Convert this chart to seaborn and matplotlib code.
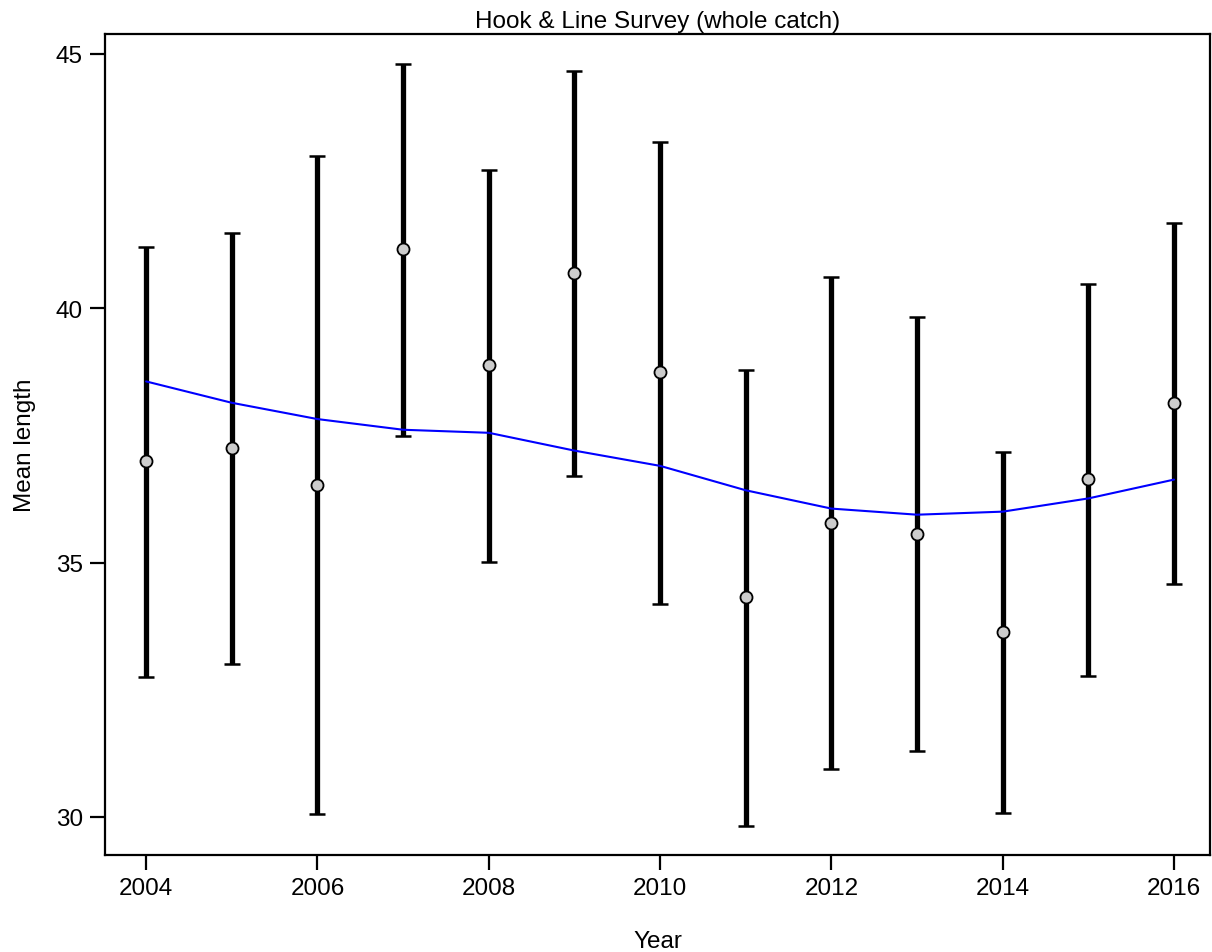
import numpy as np
import pandas as pd
import matplotlib
matplotlib.use("Agg")
import matplotlib.pyplot as plt
import seaborn as sns

# data
years = [2004, 2005, 2006, 2007, 2008, 2009, 2010, 2011, 2012, 2013, 2014, 2015, 2016]
obs_mean = [37.00, 37.25, 36.53, 41.17, 38.89, 40.69, 38.75, 34.33, 35.78, 35.57, 33.63, 36.65, 38.13]
upper = [41.21, 41.47, 42.99, 44.80, 42.72, 44.67, 43.27, 38.79, 40.62, 39.83, 37.18, 40.48, 41.68]
lower = [32.75, 33.01, 30.06, 37.49, 35.01, 36.70, 34.19, 29.82, 30.94, 31.30, 30.08, 32.77, 34.57]
expected = [38.56, 38.14, 37.82, 37.61, 37.55, 37.20, 36.90, 36.42, 36.06, 35.94, 36.00, 36.26, 36.63]

df = pd.DataFrame({"Year": years, "obs": obs_mean, "hi": upper, "lo": lower, "exp": expected})

sns.set_style("white")
plt.rcParams['font.family'] = ['Liberation Sans', 'DejaVu Sans']
plt.rcParams['text.color'] = 'black'
plt.rcParams['axes.labelcolor'] = 'black'
plt.rcParams['xtick.color'] = 'black'
plt.rcParams['ytick.color'] = 'black'

fig = plt.figure(figsize=(12.12, 9.53), dpi=100)
ax = fig.add_axes([105 / 1212, 1 - 856 / 953, 1105 / 1212, 821 / 953])

# error bars
ax.errorbar(df["Year"], df["obs"],
            yerr=[df["obs"] - df["lo"], df["hi"] - df["obs"]],
            fmt="none", ecolor="black", elinewidth=3.8, capsize=6, capthick=1.8, zorder=2)

# expected (model fit) line
sns.lineplot(data=df, x="Year", y="exp", color="blue", linewidth=1.5, ax=ax, zorder=3)

# observed means
sns.scatterplot(data=df, x="Year", y="obs", s=75, color="#cccccc", edgecolor="black",
                linewidth=1.3, ax=ax, zorder=4)

ax.set_xlim(2003.52, 2016.42)
ax.set_ylim(29.25, 45.39)
ax.set_xticks([2004, 2006, 2008, 2010, 2012, 2014, 2016])
ax.set_yticks([30, 35, 40, 45])

for s in ax.spines.values():
    s.set_visible(True)
    s.set_color("black")
    s.set_linewidth(1.6)

ax.tick_params(axis="both", direction="out", length=11, width=1.6, color="black",
               labelcolor="black", labelsize=17.5, bottom=True, left=True, pad=5)

ax.set_xlabel("Year", fontsize=17.5, labelpad=22, color="black")
ax.set_ylabel("Mean length", fontsize=17.5, labelpad=14, color="black")
ax.set_title("Hook & Line Survey (whole catch)", fontsize=17.5, pad=5, color="black")

fig.savefig("out.png", dpi=100)
